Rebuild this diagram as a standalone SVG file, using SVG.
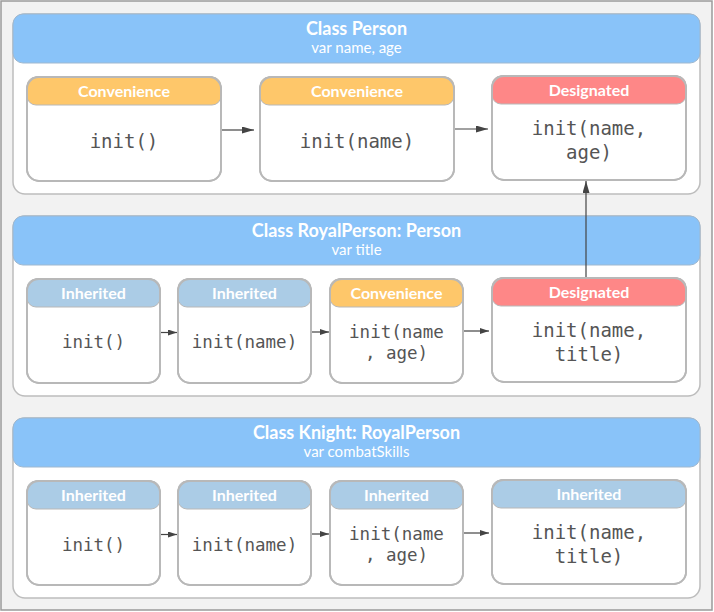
<svg xmlns="http://www.w3.org/2000/svg" width="714" height="612" viewBox="0 0 714 612">
<defs>
<style>
.frame{fill:#f2f2f2;stroke:#9a9a9a;stroke-width:1.5}
.cont{fill:#fff;stroke:#bdbdbd;stroke-width:1.5}
.chead{fill:#89c3f9;stroke:#9fb8cf;stroke-width:1}
.ctitle{font-family:Lato,"Open Sans",sans-serif;font-weight:bold;font-size:18px;fill:#fff;text-anchor:middle}
.csub{font-family:Lato,"Open Sans",sans-serif;font-size:15px;fill:#fff;text-anchor:middle}
.box{fill:#fff;stroke:#b8b8b8;stroke-width:1.8}
.boxo{fill:none;stroke:#b8b8b8;stroke-width:1.8}
.conv{fill:#fec76a;stroke:#b8b8b8;stroke-width:1}
.desig{fill:#fe8787;stroke:#b8b8b8;stroke-width:1}
.inh{fill:#abcce6;stroke:#b8b8b8;stroke-width:1}
.tag{font-family:Lato,"Open Sans",sans-serif;font-weight:bold;font-size:16px;fill:#fff;text-anchor:middle}
.code{font-family:"DejaVu Sans Mono","Liberation Mono",monospace;font-size:19px;fill:#555;text-anchor:middle}
.codes{font-family:"DejaVu Sans Mono","Liberation Mono",monospace;font-size:17.5px;fill:#555;text-anchor:middle}
.conn{stroke:#444;stroke-width:1.2;fill:none}
</style>
<marker id="ab" markerUnits="userSpaceOnUse" markerWidth="12" markerHeight="8" refX="12" refY="3.5" orient="auto"><path d="M0,0 L12,3.5 L0,7 z" fill="#444"/></marker>
<marker id="as" markerUnits="userSpaceOnUse" markerWidth="10" markerHeight="7" refX="9" refY="3" orient="auto"><path d="M0,0 L9,3 L0,6 z" fill="#444"/></marker>
</defs>
<rect class="frame" x="1" y="1" width="711" height="609"/>

<g id="class-person">
<rect class="cont" x="13" y="14" width="687" height="180" rx="12"/>
<rect class="chead" x="13" y="14" width="687" height="49" rx="10"/>
<text class="ctitle" x="356.5" y="35">Class Person</text>
<text class="csub" x="356.5" y="53">var name, age</text>
</g>
<g id="p-init">
<rect class="box" x="27" y="77" width="194" height="104" rx="12"/>
<rect class="conv" x="27" y="77" width="194" height="28" rx="9"/>
<rect class="boxo" x="27" y="77" width="194" height="104" rx="12"/>
<text class="tag" x="124" y="96.5">Convenience</text>
<text class="code" x="124" y="148">init()</text>
</g>
<g id="p-init-name">
<rect class="box" x="260" y="77" width="194" height="104" rx="12"/>
<rect class="conv" x="260" y="77" width="194" height="28" rx="9"/>
<rect class="boxo" x="260" y="77" width="194" height="104" rx="12"/>
<text class="tag" x="357" y="96.5">Convenience</text>
<text class="code" x="357" y="148">init(name)</text>
</g>
<g id="p-init-name-age">
<rect class="box" x="492" y="76" width="194" height="104" rx="12"/>
<rect class="desig" x="492" y="76" width="194" height="28" rx="9"/>
<rect class="boxo" x="492" y="76" width="194" height="104" rx="12"/>
<text class="tag" x="589" y="96">Designated</text>
<text class="code" x="589" y="135">init(name,</text>
<text class="code" x="589" y="159">age)</text>
</g>

<g id="class-royalperson">
<rect class="cont" x="13" y="216" width="687" height="180" rx="12"/>
<rect class="chead" x="13" y="216" width="687" height="49" rx="10"/>
<text class="ctitle" x="356.5" y="236.5">Class RoyalPerson: Person</text>
<text class="csub" x="356.5" y="255">var title</text>
</g>
<g id="r-init">
<rect class="box" x="27" y="279" width="133" height="104" rx="12"/>
<rect class="inh" x="27" y="279" width="133" height="28" rx="9"/>
<rect class="boxo" x="27" y="279" width="133" height="104" rx="12"/>
<text class="tag" x="93.5" y="298.5">Inherited</text>
<text class="codes" x="93.5" y="348">init()</text>
</g>
<g id="r-init-name">
<rect class="box" x="178" y="279" width="133" height="104" rx="12"/>
<rect class="inh" x="178" y="279" width="133" height="28" rx="9"/>
<rect class="boxo" x="178" y="279" width="133" height="104" rx="12"/>
<text class="tag" x="244.5" y="298.5">Inherited</text>
<text class="codes" x="244.5" y="348">init(name)</text>
</g>
<g id="r-init-name-age">
<rect class="box" x="330" y="279" width="133" height="104" rx="12"/>
<rect class="conv" x="330" y="279" width="133" height="28" rx="9"/>
<rect class="boxo" x="330" y="279" width="133" height="104" rx="12"/>
<text class="tag" x="396.5" y="298.5">Convenience</text>
<text class="codes" x="396.5" y="337.5">init(name</text>
<text class="codes" x="396.5" y="358.5">, age)</text>
</g>
<g id="r-init-name-title">
<rect class="box" x="492" y="278" width="194" height="104" rx="12"/>
<rect class="desig" x="492" y="278" width="194" height="28" rx="9"/>
<rect class="boxo" x="492" y="278" width="194" height="104" rx="12"/>
<text class="tag" x="589" y="297.5">Designated</text>
<text class="code" x="589" y="337">init(name,</text>
<text class="code" x="589" y="361">title)</text>
</g>

<g id="class-knight">
<rect class="cont" x="13" y="418" width="687" height="180" rx="12"/>
<rect class="chead" x="13" y="418" width="687" height="49" rx="10"/>
<text class="ctitle" x="356.5" y="438.5">Class Knight: RoyalPerson</text>
<text class="csub" x="356.5" y="457">var combatSkills</text>
</g>
<g id="k-init">
<rect class="box" x="27" y="481" width="133" height="104" rx="12"/>
<rect class="inh" x="27" y="481" width="133" height="28" rx="9"/>
<rect class="boxo" x="27" y="481" width="133" height="104" rx="12"/>
<text class="tag" x="93.5" y="500.5">Inherited</text>
<text class="codes" x="93.5" y="550.5">init()</text>
</g>
<g id="k-init-name">
<rect class="box" x="178" y="481" width="133" height="104" rx="12"/>
<rect class="inh" x="178" y="481" width="133" height="28" rx="9"/>
<rect class="boxo" x="178" y="481" width="133" height="104" rx="12"/>
<text class="tag" x="244.5" y="500.5">Inherited</text>
<text class="codes" x="244.5" y="550.5">init(name)</text>
</g>
<g id="k-init-name-age">
<rect class="box" x="330" y="481" width="133" height="104" rx="12"/>
<rect class="inh" x="330" y="481" width="133" height="28" rx="9"/>
<rect class="boxo" x="330" y="481" width="133" height="104" rx="12"/>
<text class="tag" x="396.5" y="500.5">Inherited</text>
<text class="codes" x="396.5" y="539.5">init(name</text>
<text class="codes" x="396.5" y="560.5">, age)</text>
</g>
<g id="k-init-name-title">
<rect class="box" x="492" y="480" width="194" height="104" rx="12"/>
<rect class="inh" x="492" y="480" width="194" height="28" rx="9"/>
<rect class="boxo" x="492" y="480" width="194" height="104" rx="12"/>
<text class="tag" x="589" y="499.5">Inherited</text>
<text class="code" x="589" y="538.5">init(name,</text>
<text class="code" x="589" y="562.5">title)</text>
</g>

<g id="connectors">
<line class="conn" x1="222" y1="130" x2="254" y2="130" marker-end="url(#ab)"/>
<line class="conn" x1="455" y1="129" x2="488" y2="129" marker-end="url(#ab)"/>
<line class="conn" x1="586" y1="277" x2="586" y2="181" marker-end="url(#ab)"/>
<line class="conn" x1="161" y1="332.5" x2="177" y2="332.5" marker-end="url(#as)"/>
<line class="conn" x1="312" y1="332" x2="329" y2="332" marker-end="url(#as)"/>
<line class="conn" x1="464" y1="331" x2="489" y2="331" marker-end="url(#as)"/>
<line class="conn" x1="161" y1="534.5" x2="177" y2="534.5" marker-end="url(#as)"/>
<line class="conn" x1="312" y1="534" x2="329" y2="534" marker-end="url(#as)"/>
<line class="conn" x1="464" y1="533" x2="489" y2="533" marker-end="url(#as)"/>
</g>
</svg>
